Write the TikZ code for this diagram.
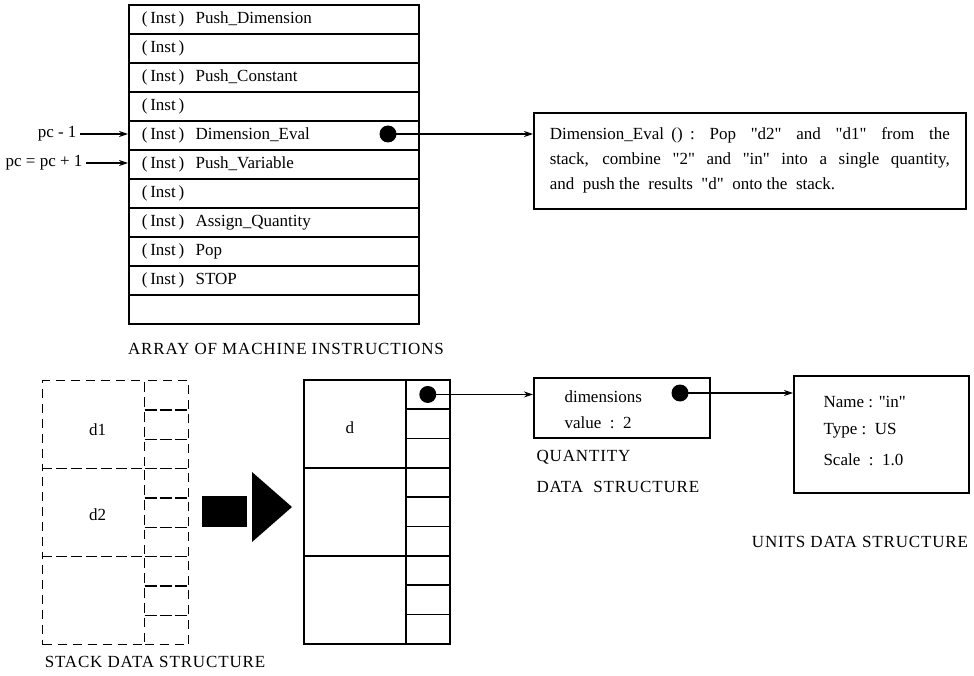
\documentclass[tikz,border=0pt]{standalone}
\usepackage{fontspec}
\setmainfont{Liberation Serif}[Ligatures=TeXOff]
\usetikzlibrary{arrows.meta}

\begin{document}
\begin{tikzpicture}[
  x=1pt, y=-1pt,
  % Bendras teksto dydis
  every node/.style={font=\fontsize{17}{25}\selectfont},
  % Remeliai ir langeliai
  box/.style={draw, line width=1.6pt, inner sep=0pt, anchor=north west},
  instrow/.style={box, minimum height=29pt, text width=264pt, inner xsep=13pt, align=left},
  stackcell/.style={box, minimum width=102pt, minimum height=88pt},
  stackslot/.style={box, minimum width=44pt, minimum height=29.33pt},
  olddash/.style={dash pattern=on 9pt off 6pt, line width=1.4pt},
  % Rodyklės ir rodyklių taškai
  pointer/.style={-{Stealth[length=9pt,width=6pt]}, line width=1.2pt},
  dot/.style={circle, fill, inner sep=0pt, minimum size=17pt},
  caption/.style={font=\fontsize{17}{30}\selectfont\addfontfeature{LetterSpace=5}}
]
  \useasboundingbox (0,0) rectangle (974,676);

  % Mašinos instrukcijų masyvas
  \foreach \txt [count=\i] in {Push\_Dimension, {}, Push\_Constant, {}, Dimension\_Eval,
      Push\_Variable, {}, Assign\_Quantity, Pop, STOP}
    \node[instrow] (inst\i) at (128, {4+29*(\i-1)}) {(\,Inst\,)\ \ \txt};
  \node[instrow] (inst11) at (128, 294) {};
  \node[caption] (arraycap) at (286,349) {ARRAY OF MACHINE INSTRUCTIONS};

  % Programos skaitiklis
  \node[anchor=east] (pcprev) at (80,134) {pc - 1};
  \node[anchor=east] (pcnext) at (86,163) {pc = pc + 1};
  \draw[pointer] (pcprev.east) -- (pcprev.east -| inst5.west);
  \draw[pointer] (pcnext.east) -- (pcnext.east -| inst6.west);

  % Instrukcijos aprašas
  \node[dot] (ptrEval) at (388,134) {};
  \node[box, text width=400pt, inner xsep=16pt, minimum height=96pt, align=justify] (evalbox) at (533,112)
    {Dimension\_Eval () :\ \ Pop\ \ "d2"\ \ and\ \ "d1"\ \ from\ \ the\linebreak
     stack, combine "2" and "in" into a single quantity,\linebreak
     and\ \ push the\ \ results\ \ "d"\ \ onto the\ \ stack.};
  \draw[pointer] (ptrEval.center) -- (ptrEval.center -| evalbox.west);

  % Stekas prieš vykdymą
  \foreach \i in {1,2,3}
    \node[stackcell, olddash] (oldcell\i) at (42, {380+88*(\i-1)}) {};
  \foreach \j in {1,...,9}
    \node[stackslot, olddash] (oldslot\j) at (144, {380+29.33*(\j-1)}) {};
  \node (oldD1) at ([xshift=4pt,yshift=-5pt]oldcell1.center) {d1};
  \node (oldD2) at ([xshift=4pt,yshift=-2pt]oldcell2.center) {d2};
  \node[caption] (stackcap) at (155,662) {STACK DATA STRUCTURE};

  % Didelė rodyklė
  \fill (202,496) rectangle (247,527);
  \fill (252,472) -- (292,507) -- (252,542) -- cycle;

  % Stekas po vykdymo
  \foreach \i in {1,2,3}
    \node[stackcell] (newcell\i) at (303, {379+88*(\i-1)}) {};
  \foreach \j in {1,...,9}
    \node[stackslot] (newslot\j) at (405, {379+29.33*(\j-1)}) {};
  \node (newD) at ([xshift=-5pt,yshift=-4pt]newcell1.center) {d};
  \node[dot] (ptrD) at (newslot1.center) {};

  % Dydžio struktūra
  \node[box, minimum width=176pt, minimum height=60pt] (quant) at (533,377) {};
  \node[anchor=west] (qdim) at (561,397) {dimensions};
  \node[anchor=west] (qval) at (561,423) {value\ \ :\ \ 2};
  \node[dot] (ptrUnit) at (680,393) {};
  \draw[pointer] (ptrD.center) -- (ptrD.center -| quant.west);
  \node[caption, anchor=west] (quantcap1) at (533,457) {QUANTITY};
  \node[caption, anchor=west] (quantcap2) at (533,487) {DATA\ \ STRUCTURE};

  % Vienetų struktūra
  \node[box, minimum width=175pt, minimum height=117pt] (units) at (793,375) {};
  \node[anchor=west] (uname) at (820,402) {Name : "in"};
  \node[anchor=west] (utype) at (820,431) {Type :\ \ US};
  \node[anchor=west] (uscale) at (820,460) {Scale\ \ :\ \ 1.0};
  \draw[pointer] (ptrUnit.center) -- (ptrUnit.center -| units.west);
  \node[caption] (unitscap) at (860,542) {UNITS DATA STRUCTURE};

\end{tikzpicture}
\end{document}
